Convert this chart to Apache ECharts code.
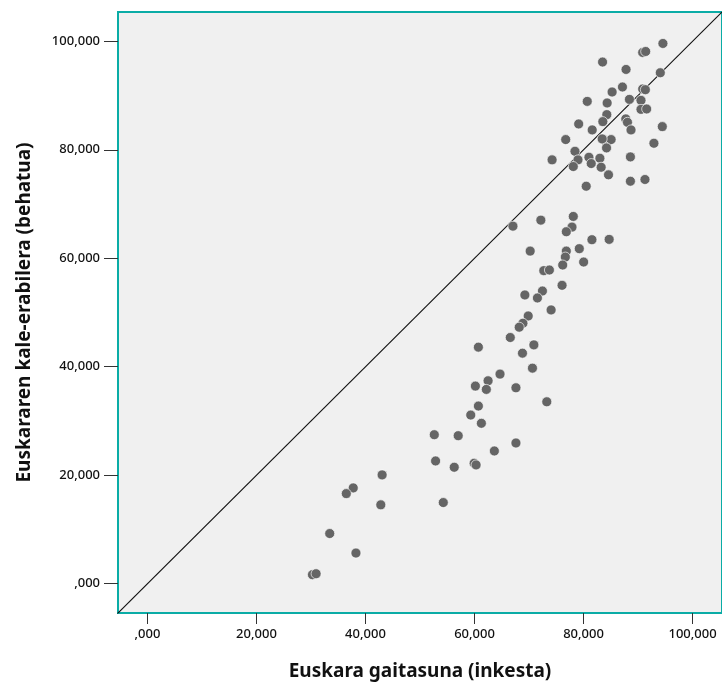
<!DOCTYPE html>
<html>
<head>
<meta charset="utf-8">
<script src="https://cdn.jsdelivr.net/npm/echarts@6/dist/echarts.min.js"></script>
<style>html,body{margin:0;padding:0;background:#fff}#c{width:722px;height:686px}</style>
</head>
<body>
<div id="c"></div>
<script>
// Euskara gaitasuna (inkesta) -> x ; Euskararen kale-erabilera (behatua) -> y
const gaitasuna = [94.56,90.85,91.40,83.49,87.80,94.08,87.14,85.24,90.85,91.34,80.68,84.33,88.42,90.54,84.27,83.54,87.75,88.06,90.54,91.58,79.11,81.59,88.71,94.45,76.73,83.67,85.06,83.42,84.22,92.91,78.43,78.98,78.12,80.99,81.41,83.00,83.23,88.60,84.58,88.60,91.27,80.49,74.23,
67.05,72.17,78.12,77.88,76.84,70.21,76.84,76.66,79.22,81.54,84.70,80.02,76.18,72.71,73.74,76.06,69.24,72.46,71.54,74.05,69.85,68.88,68.20,66.56,70.89,68.80,60.71,
70.63,64.68,62.49,60.16,62.17,67.60,73.26,60.71,59.31,61.26,52.62,57.01,67.60,63.64,52.86,56.28,59.93,60.29,54.27,
43.05,37.75,36.48,42.81,33.44,38.25,30.27,30.94];
const kaleErabilera = [99.60,97.94,98.12,96.17,94.81,94.20,91.57,90.65,91.20,91.08,88.92,88.63,89.29,89.11,86.48,85.19,85.69,85.06,87.45,87.52,84.76,83.66,83.66,84.27,81.88,81.88,81.88,82.00,80.35,81.20,79.72,78.14,76.91,78.62,77.46,78.44,76.78,78.69,75.38,74.20,74.52,73.28,78.14,
65.92,67.03,67.71,65.74,64.89,61.32,61.32,60.22,61.77,63.42,63.48,59.30,58.75,57.72,57.83,55.01,53.23,53.96,52.68,50.47,49.36,48.02,47.29,45.39,44.03,42.50,43.61,
39.74,38.64,37.41,36.43,35.82,36.12,33.54,32.75,31.09,29.57,27.47,27.29,25.94,24.47,22.63,21.47,22.21,21.90,14.96,
20.06,17.66,16.61,14.54,9.25,5.65,1.66,1.84];
const tickValues = [0,20,40,60,80,100];
const tickLabels = [",000","20,000","40,000","60,000","80,000","100,000"];
const axisMin = -5.4, axisMax = 105.4;
const xTitle = "Euskara gaitasuna (inkesta)";
const yTitle = "Euskararen kale-erabilera (behatua)";

const points = gaitasuna.map((v,i)=>[v,kaleErabilera[i]]);
const identity = [[axisMin-10,axisMin-10],[axisMax+10,axisMax+10]];
const fmt = v => { const i = tickValues.indexOf(v); return i>=0 ? tickLabels[i] : ''; };

const FONT = "Noto Sans";
const chart = echarts.init(document.getElementById('c'), null, {renderer:'canvas'});
chart.setOption({
  animation:false,
  backgroundColor:'#ffffff',
  grid:{left:118, top:12, right:-3, bottom:72, show:true, backgroundColor:'#f0f0f0', borderColor:'#0aaca6', borderWidth:2},
  xAxis:{type:'value', min:axisMin, max:axisMax,
    axisLine:{show:false, onZero:false}, splitLine:{show:false},
    axisTick:{show:true, customValues:tickValues, length:11, lineStyle:{color:'#333',width:1}},
    axisLabel:{customValues:tickValues, formatter:fmt, margin:15, fontFamily:FONT, fontSize:13, fontWeight:500, color:'#111'},
    name:xTitle, nameLocation:'middle', nameGap:49,
    nameTextStyle:{fontFamily:FONT, fontSize:19, fontWeight:'bold', color:'#111'}},
  yAxis:{type:'value', min:axisMin, max:axisMax,
    axisLine:{show:false, onZero:false}, splitLine:{show:false},
    axisTick:{show:true, customValues:tickValues, length:14, lineStyle:{color:'#333',width:1}},
    axisLabel:{customValues:tickValues, formatter:fmt, margin:18, fontFamily:FONT, fontSize:13, fontWeight:500, color:'#111'},
    name:yTitle, nameLocation:'middle', nameGap:84,
    nameTextStyle:{fontFamily:FONT, fontSize:19, fontWeight:'bold', color:'#111'}},
  series:[
    {type:'line', data:identity, symbol:'none', clip:true, silent:true,
     lineStyle:{color:'#111', width:1.2}, z:1},
    {type:'scatter', data:points, symbol:'circle', symbolSize:10, z:2,
     itemStyle:{color:'#656565', borderColor:'rgba(255,255,255,0.65)', borderWidth:1, opacity:1}}
  ]
});
</script>
</body>
</html>
